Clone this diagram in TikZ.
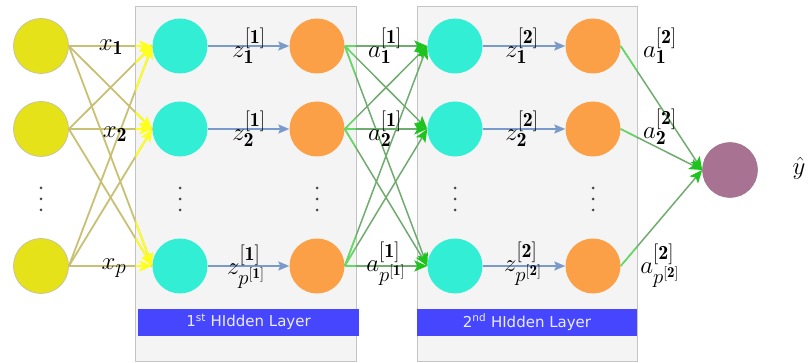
\documentclass[tikz,border=0pt]{standalone}
\usepackage{fontspec}
\newfontfamily\barfont{DejaVu Sans}
\usetikzlibrary{arrows.meta}
\DeclareMathSizes{28}{28}{20}{15}
\definecolor{inyellow}{RGB}{230,226,26}
\definecolor{inborder}{RGB}{200,196,150}
\definecolor{teal}{RGB}{50,238,212}
\definecolor{orng}{RGB}{252,160,72}
\definecolor{purp}{RGB}{168,114,146}
\definecolor{boxfill}{RGB}{244,244,244}
\definecolor{boxline}{RGB}{196,196,196}
\definecolor{barblue}{RGB}{70,70,255}
\definecolor{bartext}{RGB}{235,235,255}
\definecolor{olive}{RGB}{200,192,115}
\definecolor{brightyellow}{RGB}{255,255,30}
\definecolor{mgreen}{RGB}{112,172,112}
\definecolor{bgreen}{RGB}{100,220,100}
\definecolor{tipgreen}{RGB}{30,196,30}
\definecolor{steel}{RGB}{122,154,204}
\definecolor{dotgray}{RGB}{70,70,70}
\tikzset{
  neuron/.style={circle, minimum size=55pt, inner sep=0pt},
  innode/.style={neuron, fill=inyellow, draw=inborder, line width=0.8pt},
  hnode/.style={neuron, fill=teal},
  onode/.style={neuron, fill=orng},
  outnode/.style={neuron, fill=purp, draw=purp!80!gray, line width=0.6pt},
  layerbox/.style={draw=boxline, fill=boxfill, line width=1pt, inner sep=0pt},
  layerbar/.style={fill=barblue, text=bartext, inner sep=0pt, font=\barfont\fontsize{15}{17}\selectfont},
  lab/.style={inner sep=0pt, font=\fontsize{28}{32}\selectfont},
  oliveedge/.style={draw=olive, line width=1.8pt},
  yellowedge/.style={draw=brightyellow, line width=1.8pt, -{Stealth[length=13pt,width=11pt,inset=3pt]}},
  greenedge/.style={draw=mgreen, line width=1.5pt, -{Stealth[length=13pt,width=11pt,inset=3pt,color=tipgreen]}},
  brightgreen/.style={draw=bgreen, line width=1.5pt},
  blueedge/.style={draw=steel, line width=2pt, -{Stealth[length=11pt,width=9pt,inset=2pt]}},
  dotmark/.style={circle, fill=dotgray, inner sep=0pt, minimum size=3pt}
}
\begin{document}
\begin{tikzpicture}[x=1pt,y=-1pt]
\useasboundingbox (0,0) rectangle (808,363);
\fill[white] (0,0) rectangle (808,363);
% layer boxes
\node[layerbox, minimum width=221pt, minimum height=354pt] (box1) at (245.5,184) {};
\node[layerbox, minimum width=220pt, minimum height=354pt] (box2) at (527,184) {};
\node[layerbar, minimum width=221pt, minimum height=27pt] (bar1) at (248.5,322) {1\textsuperscript{st} HIdden Layer};
\node[layerbar, minimum width=220pt, minimum height=27pt] (bar2) at (527,322) {2\textsuperscript{nd} HIdden Layer};
% neurons
\foreach \n/\y in {1/46,2/129,3/266}{
  \node[innode] (I\n) at (41,\y) {};
  \node[hnode] (H\n) at (180,\y) {};
  \node[onode] (O\n) at (317,\y) {};
  \node[hnode] (K\n) at (455,\y) {};
  \node[onode] (P\n) at (593,\y) {};
}
\node[outnode] (Y) at (730,170) {};
% vertical dots
\foreach \x in {41,180,317,455,593}{
  \node[dotmark] at (\x,188) {};
  \node[dotmark] at (\x,199) {};
  \node[dotmark] at (\x,210) {};
}
% input -> hidden 1
\foreach \i in {1,2,3}{\foreach \j in {1,2,3}{
  \draw[oliveedge] (I\i.east) -- (H\j.west);
}}
\begin{scope}
  \clip (135.5,0) rectangle (170,363);
  \foreach \i in {1,2,3}{\foreach \j in {1,2,3}{
    \draw[yellowedge] (I\i.east) -- (H\j.west);
  }}
\end{scope}
% teal -> orange
\foreach \n in {1,2,3}{
  \draw[blueedge] (H\n.east) -- (O\n.west);
  \draw[blueedge] (K\n.east) -- (P\n.west);
}
% orange 1 -> hidden 2
\foreach \i in {1,2,3}{\foreach \j in {1,2,3}{
  \draw[greenedge] (O\i.east) -- (K\j.west);
}}
\begin{scope}
  \clip (300,0) rectangle (355.5,363);
  \foreach \i in {1,2,3}{\foreach \j in {1,2,3}{
    \draw[brightgreen] (O\i.east) -- (K\j.west);
  }}
\end{scope}
% orange 2 -> output
\foreach \i in {1,2,3}{
  \draw[greenedge] (P\i.east) -- (Y.west);
}
\begin{scope}
  \clip (600,0) rectangle (636.5,363);
  \foreach \i in {1,2,3}{
    \draw[brightgreen] (P\i.east) -- (Y.west);
  }
\end{scope}
% labels
\node[lab] (lx1) at (111,47) {$x_{\mathbf{1}}$};
\node[lab] (lx2) at (115,134) {$x_{\mathbf{2}}$};
\node[lab] (lx3) at (114,268) {$x_{p}$};
\node[lab] (lz1) at (249,46) {$z^{\mathbf{[1]}}_{\mathbf{1}}$};
\node[lab] (lz2) at (249,129) {$z^{\mathbf{[1]}}_{\mathbf{2}}$};
\node[lab] (lz3) at (246,267) {$z^{\mathbf{[1]}}_{p^{\mathbf{[1]}}}$};
\node[lab] (la1) at (385,46) {$a^{\mathbf{[1]}}_{\mathbf{1}}$};
\node[lab] (la2) at (385,129) {$a^{\mathbf{[1]}}_{\mathbf{2}}$};
\node[lab] (la3) at (386,264) {$a^{\mathbf{[1]}}_{p^{\mathbf{[1]}}}$};
\node[lab] (lw1) at (522,46) {$z^{\mathbf{[2]}}_{\mathbf{1}}$};
\node[lab] (lw2) at (522,129) {$z^{\mathbf{[2]}}_{\mathbf{2}}$};
\node[lab] (lw3) at (523,264) {$z^{\mathbf{[2]}}_{p^{\mathbf{[2]}}}$};
\node[lab] (lb1) at (660,46) {$a^{\mathbf{[2]}}_{\mathbf{1}}$};
\node[lab] (lb2) at (660,127) {$a^{\mathbf{[2]}}_{\mathbf{2}}$};
\node[lab] (lb3) at (660,266) {$a^{\mathbf{[2]}}_{p^{\mathbf{[2]}}}$};
\node[lab] (ly) at (799,168) {$\hat{y}$};
\end{tikzpicture}
\end{document}
